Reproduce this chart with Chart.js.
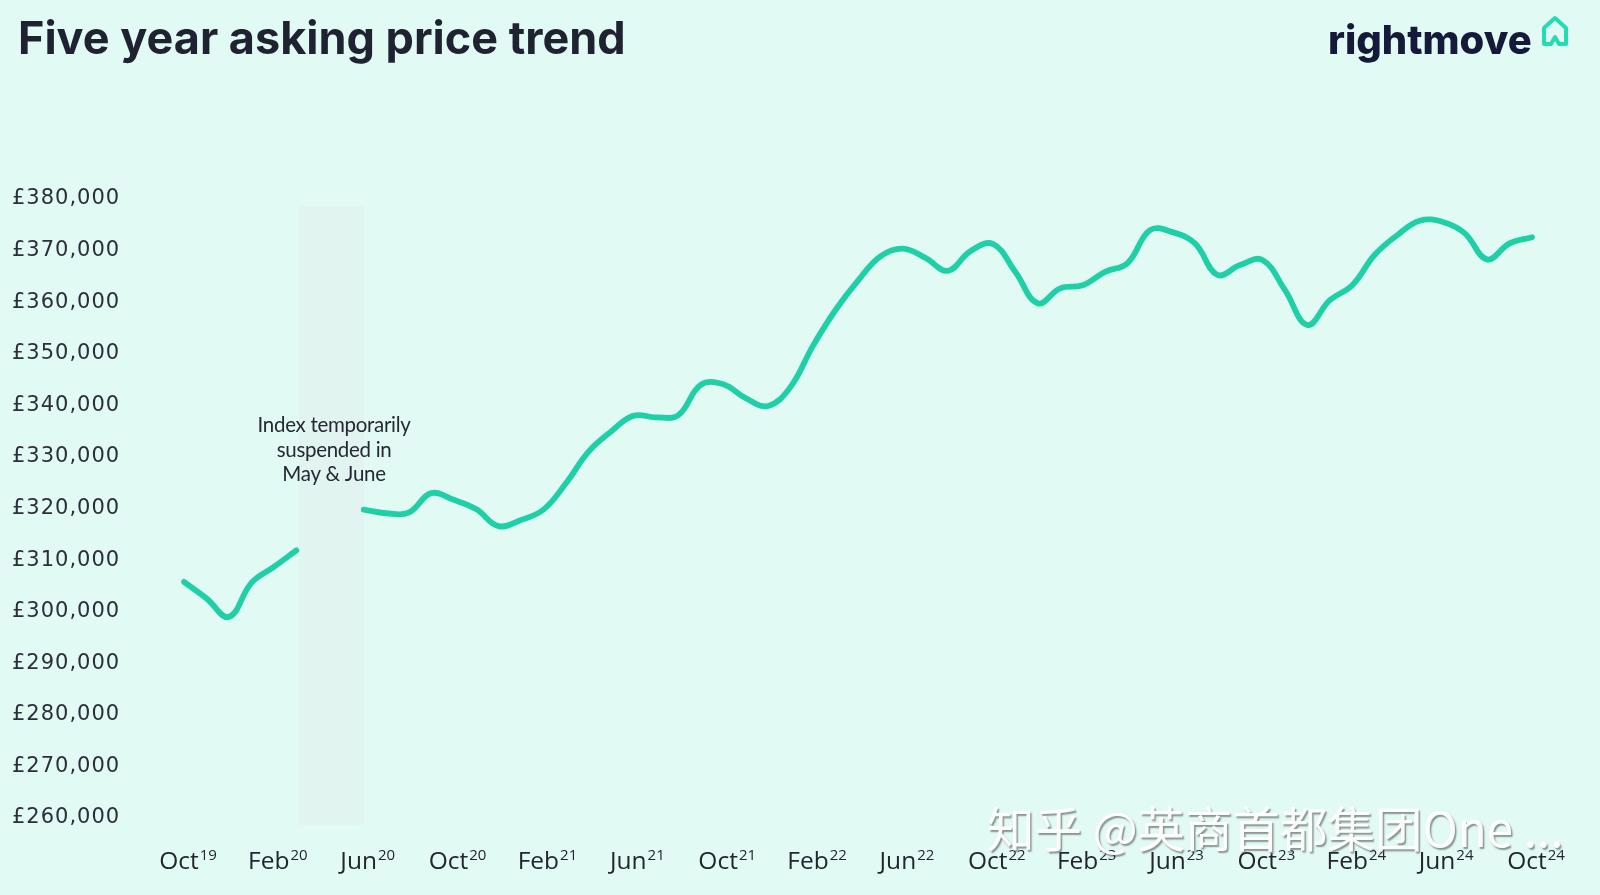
<!DOCTYPE html>
<html>
<head>
<meta charset="utf-8">
<script src="https://cdn.jsdelivr.net/npm/chart.js@4.4.1/dist/chart.umd.min.js"></script>
<style>
  html, body { margin: 0; padding: 0; background: #e2faf4; }
  #wrap { position: relative; width: 1600px; height: 895px; }
</style>
</head>
<body>
<div id="wrap"><canvas id="trend-chart"></canvas></div>
<script>
// Monthly labels, Oct 2019 to Oct 2024
const months = [
  'Oct19','Nov19','Dec19','Jan20','Feb20','Mar20','Apr20','May20','Jun20','Jul20','Aug20','Sep20',
  'Oct20','Nov20','Dec20','Jan21','Feb21','Mar21','Apr21','May21','Jun21','Jul21','Aug21','Sep21',
  'Oct21','Nov21','Dec21','Jan22','Feb22','Mar22','Apr22','May22','Jun22','Jul22','Aug22','Sep22',
  'Oct22','Nov22','Dec22','Jan23','Feb23','Mar23','Apr23','May23','Jun23','Jul23','Aug23','Sep23',
  'Oct23','Nov23','Dec23','Jan24','Feb24','Mar24','Apr24','May24','Jun24','Jul24','Aug24','Sep24',
  'Oct24'
];

// Average asking price (GBP); gap = index suspended
const askingPrice = [
  305200, 302000, 298400, 305000, 308100, 311300, null, null, 319200, 318500, 318600, 322400,
  321100, 319300, 316000, 317200, 319200, 324300, 330400, 334300, 337400, 337100, 337500, 343400,
  343500, 340800, 339300, 343000, 351000, 357900, 363600, 368300, 369800, 368000, 365500, 369300,
  370700, 365300, 359200, 362100, 362700, 365300, 367000, 373400, 373000, 370800, 364700, 366600,
  367600, 361800, 355000, 359800, 362700, 368600, 372400, 375200, 375000, 372800, 367700, 370800,
  372000
];

// Axis labels shown every four months
const tickLabels = ['Oct19','Feb20','Jun20','Oct20','Feb21','Jun21','Oct21','Feb22',
                    'Jun22','Oct22','Feb23','Jun23','Oct23','Feb24','Jun24','Oct24'];

const yMin = 260000;
const yMax = 380000;
const yStep = 10000;

// Suspension band and its note
const suspendedFrom = 'Mar20';
const suspendedTo = 'Jun20';
const noteLines = ['Index temporarily', 'suspended in', 'May & June'];
const noteValue = 335500;

const title = 'Five year asking price trend';
const brand = 'rightmove';
const watermark = '知乎 @英商首都集团One ...';

const TEXT = '#23252f';
const TEAL = '#1fd0a7';

// Band behind the line for the suspended months
const bandPlugin = {
    id: 'band',
    beforeDraw(chart) {
        chart.ctx.letterSpacing = '1px';
    },
    beforeDatasetsDraw(chart) {
        const { ctx, chartArea } = chart;
        const x = chart.scales.x;
        const x1 = x.getPixelForValue(months.indexOf(suspendedFrom)) + 3;
        const x2 = x.getPixelForValue(months.indexOf(suspendedTo));
        ctx.save();
        ctx.fillStyle = 'rgba(226, 238, 236, 0.55)';
        ctx.fillRect(x1, chartArea.top + 10, x2 - x1, chartArea.bottom - chartArea.top);
        ctx.restore();
    }
};

// Title, logo, month labels with superscript years, note and watermark
const decorPlugin = {
    id: 'decor',
    afterDraw(chart) {
        const { ctx, chartArea } = chart;
        const x = chart.scales.x;
        const y = chart.scales.y;
        ctx.save();
        ctx.letterSpacing = '0px';

        // title
        ctx.fillStyle = '#1f2230';
        ctx.font = '700 45px Inter';
        ctx.textAlign = 'left';
        ctx.textBaseline = 'alphabetic';
        ctx.fillText(title, 18, 54);

        // brand
        ctx.fillStyle = '#151a3a';
        ctx.font = '800 40px Inter';
        ctx.fillText(brand, 1328, 54);

        // house icon
        ctx.strokeStyle = '#22dcb2';
        ctx.lineWidth = 4;
        ctx.lineJoin = 'round';
        ctx.lineCap = 'round';
        ctx.beginPath();
        ctx.moveTo(1544, 44);
        ctx.lineTo(1544, 28);
        ctx.lineTo(1555, 18);
        ctx.lineTo(1566, 28);
        ctx.lineTo(1566, 44);
        ctx.lineTo(1559, 44);
        ctx.lineTo(1555, 37);
        ctx.lineTo(1551, 44);
        ctx.closePath();
        ctx.stroke();

        // x labels
        ctx.fillStyle = TEXT;
        tickLabels.forEach(lbl => {
            const px = x.getPixelForValue(months.indexOf(lbl)) + 4;
            const name = lbl.slice(0, 3);
            const yr = lbl.slice(3);
            ctx.font = '24.5px "Open Sans"';
            const w1 = ctx.measureText(name).width;
            ctx.font = '15px "Open Sans"';
            const w2 = ctx.measureText(yr).width;
            const start = px - (w1 + w2 + 1) / 2;
            ctx.textAlign = 'left';
            ctx.font = '24.5px "Open Sans"';
            ctx.fillText(name, start, chartArea.bottom + 54);
            ctx.font = '15px "Open Sans"';
            ctx.fillText(yr, start + w1 + 1, chartArea.bottom + 45);
        });

        // note in the band
        const cx = (x.getPixelForValue(months.indexOf(suspendedFrom)) + x.getPixelForValue(months.indexOf(suspendedTo))) / 2 + 4;
        const cy = y.getPixelForValue(noteValue);
        ctx.font = '20.5px Lato';
        ctx.letterSpacing = '-0.3px';
        ctx.textAlign = 'center';
        ctx.textBaseline = 'middle';
        ctx.fillStyle = '#262834';
        noteLines.forEach((t, i) => ctx.fillText(t, cx, cy + i * 24.5));
        ctx.letterSpacing = '0px';

        // watermark
        ctx.font = '47.5px "Noto Sans CJK SC"';
        ctx.textAlign = 'left';
        ctx.textBaseline = 'alphabetic';
        ctx.shadowColor = 'rgba(70, 70, 70, 0.6)';
        ctx.shadowOffsetX = 1.5;
        ctx.shadowOffsetY = 1.5;
        ctx.shadowBlur = 1.5;
        ctx.fillStyle = 'rgba(255, 255, 255, 0.95)';
        ctx.fillText(watermark, 987, 847);

        ctx.restore();
    }
};

const trendChart = new Chart(document.getElementById('trend-chart'), {
    type: 'line',
    data: {
        labels: months,
        datasets: [{
            label: 'Asking price',
            data: askingPrice,
            borderColor: TEAL,
            borderWidth: 5.8,
            pointRadius: 0,
            tension: 0.4,
            spanGaps: false,
            borderCapStyle: 'round',
            borderJoinStyle: 'round'
        }]
    },
    options: {
        responsive: true,
        maintainAspectRatio: false,
        animation: false,
        layout: {
            padding: { top: 196, right: 68, bottom: 0, left: 12 }
        },
        plugins: {
            legend: { display: false },
            tooltip: { enabled: false }
        },
        scales: {
            x: {
                offset: false,
                grid: { display: false },
                border: { display: false },
                ticks: { display: false },
                afterFit(scale) { scale.height = 80; }
            },
            y: {
                min: yMin,
                max: yMax,
                grid: { display: false },
                border: { display: false },
                ticks: {
                    stepSize: yStep,
                    crossAlign: 'far',
                    padding: 0,
                    labelOffset: 3,
                    color: '#2c2e3a',
                    font: { family: 'DejaVu Sans', size: 21 },
                    callback: v => '£' + v.toLocaleString('en-GB')
                },
                afterFit(scale) { scale.width = 172; }
            }
        }
    },
    plugins: [bandPlugin, decorPlugin]
});
</script>
</body>
</html>
